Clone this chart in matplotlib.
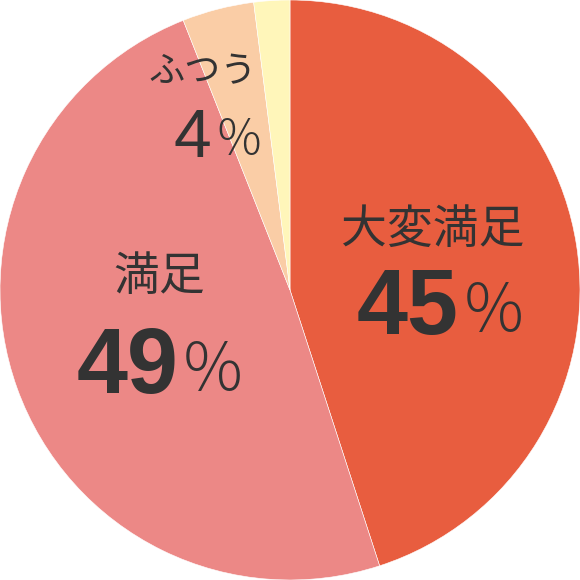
import matplotlib.pyplot as plt

labels = ['大変満足', '満足', 'ふつう', 'その他']
values = [45, 49, 4, 2]
colors = ['#E85D3F', '#EC8886', '#FACDA6', '#FFF6BA']

fig = plt.figure(figsize=(5.8, 5.8), dpi=100)
ax = fig.add_axes([0, 0, 1, 1])
ax.pie(values, colors=colors, startangle=90, counterclock=False, radius=1,
       wedgeprops=dict(edgecolor='white', linewidth=0.4))
ax.set_xlim(-1, 1)
ax.set_ylim(-1, 1)
ax.set_aspect('equal')
ax.axis('off')

jp = ['Noto Sans CJK JP', 'DejaVu Sans']
txt = '#333333'

def px(x, y):
    return (x - 290) / 290, (290 - y) / 290

# label placement in pixels: label centre, number right edge / baseline
spots = [
    dict(lab=(433, 230), num=(459, 334), lab_fs=33, num_fs=66, bold=True, gap=0.006),
    dict(lab=(159, 277), num=(178, 393), lab_fs=33, num_fs=66, bold=True, gap=0.006),
    dict(lab=(203, 72), num=(211, 157), lab_fs=26, num_fs=49, bold=False, gap=0.012),
]

for lab, val, sp in zip(labels, values, spots):
    x, y = px(*sp['lab'])
    ax.text(x, y, lab, ha='center', va='center', fontsize=sp['lab_fs'],
            color=txt, family=jp)
    x, y = px(*sp['num'])
    ax.text(x, y, str(val), ha='right', va='baseline', fontsize=sp['num_fs'],
            color=txt, family=['Liberation Sans', 'DejaVu Sans'],
            fontweight='bold' if sp['bold'] else 'normal')
    ax.text(x + sp['gap'], y + 0.008, '％', ha='left', va='baseline',
            fontsize=sp['num_fs'] * 0.72, color=txt, family=jp,
            fontweight='light')

fig.savefig('out.png', dpi=100)
